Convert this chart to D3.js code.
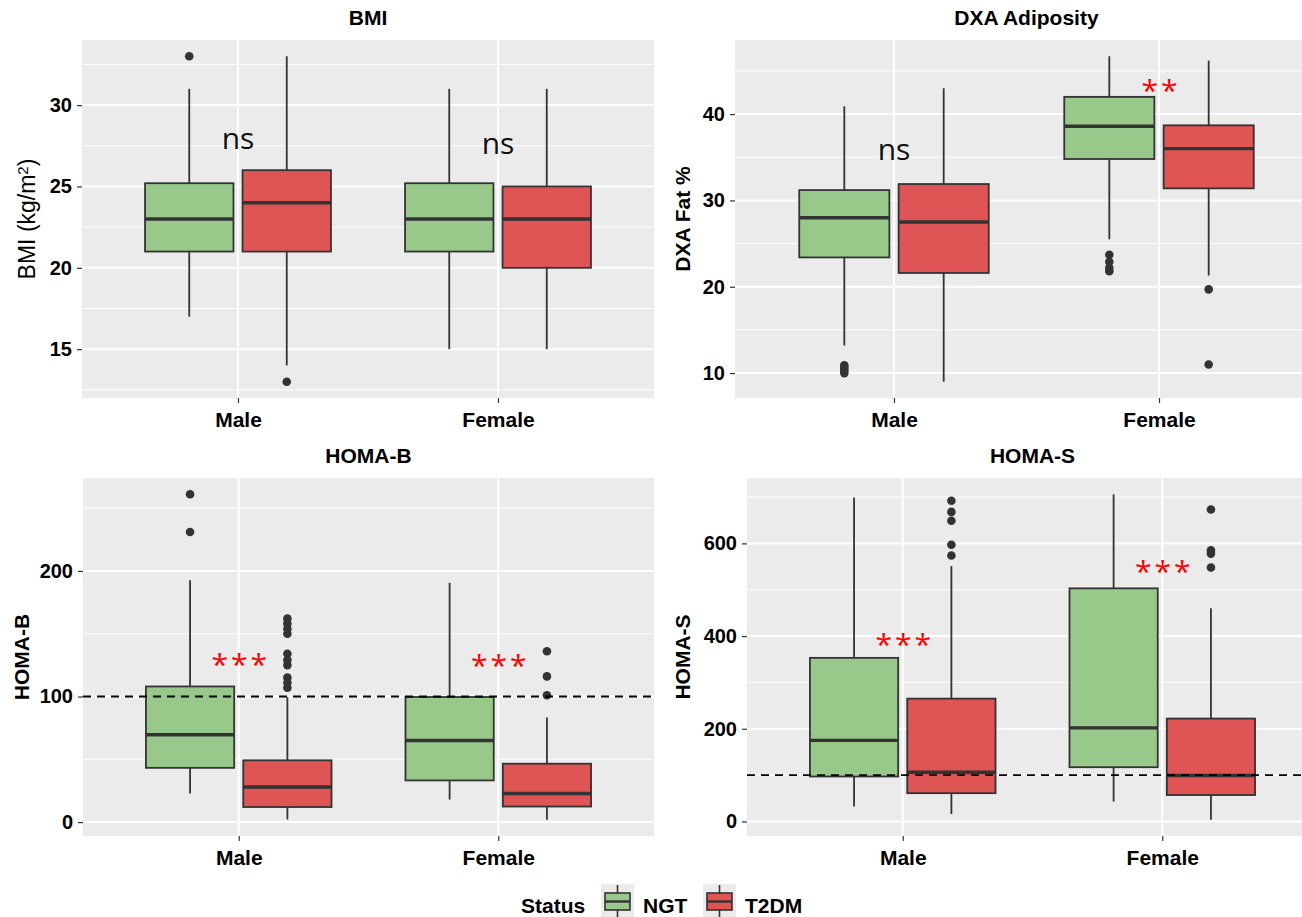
<!DOCTYPE html>
<html>
<head>
<meta charset="utf-8">
<script src="https://cdn.jsdelivr.net/npm/d3@7"></script>
<style>
  body { margin: 0; background: #fff; }
  svg { display: block; font-family: "Liberation Sans", Arial, sans-serif; }
</style>
</head>
<body>
<svg id="canvas" width="1302" height="917"></svg>
<script>
// data
const groups = ['Male', 'Female'];
const statuses = ['NGT', 'T2DM'];

// [lower whisker, Q1, median, Q3, upper whisker] : Male-NGT, Male-T2DM, Female-NGT, Female-T2DM
const bmiBoxes = [[17, 21, 23, 25.2, 31], [14, 21, 24, 26, 33], [15, 21, 23, 25.2, 31], [15, 20, 23, 25, 31]];
const bmiOutliers = [[33], [13], [], []];
const bmiSig = ['ns', 'ns'];
const bmiSigY = [27.8, 27.5];
const bmiTicks = [15, 20, 25, 30];

const dxaBoxes = [[13.2, 23.4, 28.0, 31.2, 40.9], [9.0, 21.6, 27.5, 31.9, 43.0], [25.5, 34.8, 38.6, 42.0, 46.7], [21.3, 31.4, 36.0, 38.7, 46.2]];
const dxaOutliers = [[10.9, 10.6, 10.3, 10.0], [], [23.7, 22.9, 22.2, 21.8], [19.7, 11.0]];
const dxaSig = ['ns', '**'];
const dxaSigY = [35.6, 43.5];
const dxaTicks = [10, 20, 30, 40];

const homaBBoxes = [[22.8, 43.2, 69.6, 108, 192.6], [2.1, 12, 28, 49.2, 99.5], [18, 33.2, 65, 99.6, 190.5], [1.9, 12.4, 22.8, 46.5, 83.2]];
const homaBOutliers = [[261, 231], [162, 158, 154, 150, 134, 129, 125, 115, 111, 107], [], [136, 116, 101]];
const homaBSig = ['***', '***'];
const homaBSigY = [131, 130];
const homaBTicks = [0, 100, 200];

const homaSBoxes = [[32.5, 97, 175, 353, 699], [16, 61, 106, 265, 551], [43, 117, 202, 503, 706], [3.7, 57, 99, 222, 460]];
const homaSOutliers = [[], [692, 668, 649, 597, 574], [], [673, 585, 578, 548]];
const homaSSig = ['***', '***'];
const homaSSigY = [395, 553];
const homaSTicks = [0, 200, 400, 600];

const refLine = 100;

const fills = { NGT: '#98C98A', T2DM: '#DF5555' };
const ink = '#333333';

let canvas = d3.select('#canvas');

let drawPanel = (p) => {
  let g = canvas.append('g');

  // y scale with ggplot style 5% expansion
  let all = p.boxes.flat().concat(p.outliers.flat());
  let lo = d3.min(all), hi = d3.max(all), pad = (hi - lo) * 0.05;
  let y = d3.scaleLinear().domain([lo - pad, hi + pad]).range([p.B, p.T]);
  let x = d3.scalePoint().domain(groups).range([p.L, p.R]).padding(0.6);
  let step = x.step();
  let dodge = d3.scalePoint().domain(statuses).range([-0.1875 * step, 0.1875 * step]);
  let bw = 0.34 * step;

  // background + grid
  g.append('rect').attr('x', p.L).attr('y', p.T).attr('width', p.R - p.L).attr('height', p.B - p.T).attr('fill', '#EBEBEB');
  let minor = [];
  for (let i = 0; i < p.ticks.length - 1; i++) minor.push((p.ticks[i] + p.ticks[i + 1]) / 2);
  let d = p.ticks[1] - p.ticks[0];
  minor.push(p.ticks[0] - d / 2, p.ticks[p.ticks.length - 1] + d / 2);
  minor = minor.filter(v => v > y.domain()[0] && v < y.domain()[1]);
  g.selectAll('.minor').data(minor).enter().append('line')
    .attr('x1', p.L).attr('x2', p.R).attr('y1', v => y(v)).attr('y2', v => y(v))
    .attr('stroke', '#fff').attr('stroke-width', 1);
  g.selectAll('.major').data(p.ticks).enter().append('line')
    .attr('x1', p.L).attr('x2', p.R).attr('y1', v => y(v)).attr('y2', v => y(v))
    .attr('stroke', '#fff').attr('stroke-width', 2);
  g.selectAll('.vmajor').data(groups).enter().append('line')
    .attr('x1', v => x(v)).attr('x2', v => x(v)).attr('y1', p.T).attr('y2', p.B)
    .attr('stroke', '#fff').attr('stroke-width', 2);

  // boxes
  let items = [];
  groups.forEach((gr, i) => statuses.forEach((st, j) => {
    items.push({ group: gr, status: st, s: p.boxes[i * 2 + j], out: p.outliers[i * 2 + j] });
  }));
  let box = g.selectAll('.box').data(items).enter().append('g');
  box.append('line')
    .attr('x1', b => x(b.group) + dodge(b.status)).attr('x2', b => x(b.group) + dodge(b.status))
    .attr('y1', b => y(b.s[0])).attr('y2', b => y(b.s[1]))
    .attr('stroke', ink).attr('stroke-width', 1.8);
  box.append('line')
    .attr('x1', b => x(b.group) + dodge(b.status)).attr('x2', b => x(b.group) + dodge(b.status))
    .attr('y1', b => y(b.s[3])).attr('y2', b => y(b.s[4]))
    .attr('stroke', ink).attr('stroke-width', 1.8);
  box.append('rect')
    .attr('x', b => x(b.group) + dodge(b.status) - bw / 2).attr('width', bw)
    .attr('y', b => y(b.s[3])).attr('height', b => y(b.s[1]) - y(b.s[3]))
    .attr('fill', b => fills[b.status]).attr('stroke', ink).attr('stroke-width', 1.8);
  box.append('line')
    .attr('x1', b => x(b.group) + dodge(b.status) - bw / 2).attr('x2', b => x(b.group) + dodge(b.status) + bw / 2)
    .attr('y1', b => y(b.s[2])).attr('y2', b => y(b.s[2]))
    .attr('stroke', ink).attr('stroke-width', 3.4);
  box.selectAll('circle').data(b => b.out.map(v => ({ v: v, cx: x(b.group) + dodge(b.status) }))).enter().append('circle')
    .attr('cx', o => o.cx).attr('cy', o => y(o.v)).attr('r', 4.3).attr('fill', ink);

  // reference line
  if (p.ref !== undefined) {
    g.append('line').attr('x1', p.L).attr('x2', p.R).attr('y1', y(p.ref)).attr('y2', y(p.ref))
      .attr('stroke', '#000').attr('stroke-width', 1.8).attr('stroke-dasharray', '8,6');
  }

  // significance labels
  groups.forEach((gr, i) => {
    let lab = p.sig[i];
    if (lab === 'ns') {
      g.append('text').attr('x', x(gr)).attr('y', y(p.sigY[i]) + 8)
        .attr('text-anchor', 'middle').attr('font-family', '"Open Sans", sans-serif')
        .attr('font-size', 30).attr('fill', '#111').text(lab);
    } else {
      g.append('text').attr('x', x(gr) + 2).attr('y', y(p.sigY[i]) + 17)
        .attr('text-anchor', 'middle').attr('font-family', '"Open Sans", sans-serif')
        .attr('font-size', 30).attr('letter-spacing', 3).attr('fill', '#FF0000').text(lab);
    }
  });

  // axes
  let yAxis = d3.axisLeft(y).tickValues(p.ticks).tickSize(5).tickPadding(5);
  let ya = g.append('g').attr('transform', 'translate(' + p.L + ',0)').call(yAxis);
  ya.select('.domain').remove();
  ya.selectAll('line').attr('stroke', ink).attr('stroke-width', 1.2);
  ya.selectAll('text').attr('font-size', 20).attr('font-weight', 'bold').attr('fill', '#000')
    .attr('font-family', '"Liberation Sans", Arial, sans-serif');

  let xAxis = d3.axisBottom(x).tickSize(5).tickPadding(4);
  let xa = g.append('g').attr('transform', 'translate(0,' + p.B + ')').call(xAxis);
  xa.select('.domain').remove();
  xa.selectAll('line').attr('stroke', ink).attr('stroke-width', 1.2);
  xa.selectAll('text').attr('font-size', 21).attr('font-weight', 'bold').attr('fill', '#000')
    .attr('font-family', '"Liberation Sans", Arial, sans-serif').attr('dy', '0.95em');

  // y axis title
  let yt = g.append('text')
    .attr('transform', 'translate(' + p.ytx + ',' + ((p.T + p.B) / 2) + ') rotate(-90)')
    .attr('text-anchor', 'middle').attr('dy', '0.35em').attr('fill', '#000');
  if (p.ytitleHtml) {
    yt.attr('font-size', 23);
    yt.append('tspan').text('BMI (kg/m');
    yt.append('tspan').attr('font-size', 15).attr('dy', '-0.45em').text('2');
    yt.append('tspan').attr('dy', '0.3em').text(')');
  } else {
    yt.attr('font-size', 21).attr('font-weight', 'bold').text(p.ytitle);
  }

  // panel title, centred over the panel
  canvas.append('text')
    .attr('x', (p.L + p.R) / 2).attr('y', p.T - 15)
    .attr('text-anchor', 'middle').attr('font-size', 21).attr('font-weight', 'bold')
    .attr('fill', '#000').text(p.title);
};

drawPanel({ title: 'BMI', L: 82, R: 654, T: 40, B: 398, boxes: bmiBoxes, outliers: bmiOutliers,
  sig: bmiSig, sigY: bmiSigY, ticks: bmiTicks, ytx: 27, ytitleHtml: true });
drawPanel({ title: 'DXA Adiposity', L: 735, R: 1318, T: 40, B: 398, boxes: dxaBoxes, outliers: dxaOutliers,
  sig: dxaSig, sigY: dxaSigY, ticks: dxaTicks, ytx: 683, ytitle: 'DXA Fat %' });
drawPanel({ title: 'HOMA-B', L: 83, R: 654, T: 478, B: 836, boxes: homaBBoxes, outliers: homaBOutliers,
  sig: homaBSig, sigY: homaBSigY, ticks: homaBTicks, ytx: 22, ytitle: 'HOMA-B', ref: refLine });
drawPanel({ title: 'HOMA-S', L: 747, R: 1318, T: 478, B: 836, boxes: homaSBoxes, outliers: homaSOutliers,
  sig: homaSSig, sigY: homaSSigY, ticks: homaSTicks, ytx: 683, ytitle: 'HOMA-S', ref: refLine });

// legend
let legend = canvas.append('g');
legend.append('text').attr('x', 521).attr('y', 913).attr('font-size', 21).attr('font-weight', 'bold').text('Status');
let keyX = d3.scalePoint().domain(statuses).range([601, 703]);
statuses.forEach((st) => {
  let kx = keyX(st);
  legend.append('rect').attr('x', kx).attr('y', 884).attr('width', 33).attr('height', 34).attr('fill', '#EBEBEB');
  legend.append('line').attr('x1', kx + 16.5).attr('x2', kx + 16.5).attr('y1', 885).attr('y2', 917)
    .attr('stroke', ink).attr('stroke-width', 1.6);
  legend.append('rect').attr('x', kx + 4).attr('y', 893).attr('width', 25).attr('height', 17)
    .attr('fill', fills[st]).attr('stroke', ink).attr('stroke-width', 1.6);
  legend.append('line').attr('x1', kx + 4).attr('x2', kx + 29).attr('y1', 901.5).attr('y2', 901.5)
    .attr('stroke', ink).attr('stroke-width', 2.4);
  legend.append('text').attr('x', kx + 42).attr('y', 913).attr('font-size', 21).attr('font-weight', 'bold').text(st);
});
</script>
</body>
</html>
